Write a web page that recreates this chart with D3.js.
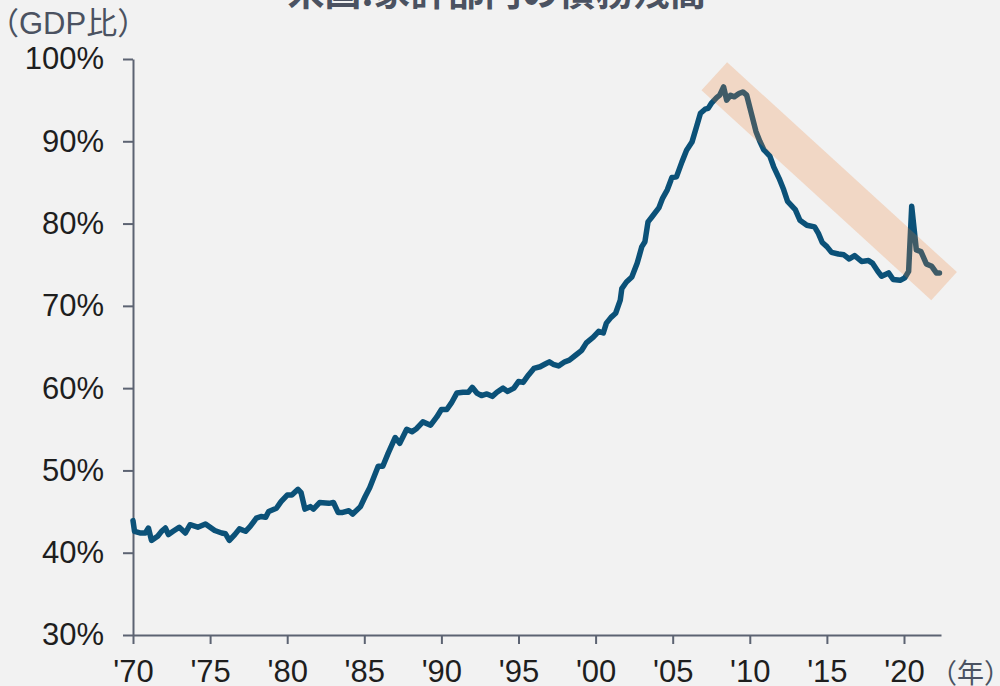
<!DOCTYPE html>
<html>
<head>
<meta charset="utf-8">
<script src="https://cdnjs.cloudflare.com/ajax/libs/d3/7.8.5/d3.min.js"></script>
<style>
  html, body { margin: 0; padding: 0; background: #f2f2f2; }
  svg { display: block; }
  .tick text { font-family: "Liberation Sans", Arial, sans-serif; font-size: 31px; fill: #1e1e1e; }
  .axis path, .axis line { stroke: #5c6372; stroke-width: 2px; }
</style>
</head>
<body>
<div class="chart"></div>
<script>
var svgWidth = 1000;
var svgHeight = 686;

var margin = {
  top: 59,
  right: 59,
  bottom: 51,
  left: 133
};

var width = svgWidth - margin.left - margin.right;
var height = svgHeight - margin.top - margin.bottom;

// household debt, % of GDP
var years = [
  1970.0, 1970.1, 1970.45, 1970.8, 1971.0, 1971.2, 1971.6, 1971.85, 1972.1, 1972.3,
  1972.6, 1973.0, 1973.4, 1973.7, 1974.2, 1974.7, 1975.3, 1975.75, 1976.0, 1976.25,
  1976.6, 1976.9, 1977.3, 1977.6, 1978.0, 1978.3, 1978.6, 1978.8, 1979.3, 1979.6,
  1980.0, 1980.3, 1980.7, 1980.9, 1981.15, 1981.5, 1981.7, 1982.1, 1982.7, 1983.0,
  1983.3, 1983.6, 1984.0, 1984.25, 1984.75, 1985.05, 1985.35, 1985.9, 1986.2, 1986.55,
  1987.0, 1987.3, 1987.75, 1988.1, 1988.4, 1988.8, 1989.3, 1989.7, 1990.0, 1990.35,
  1990.65, 1991.0, 1991.4, 1991.75, 1992.0, 1992.3, 1992.6, 1992.95, 1993.3, 1993.6,
  1994.0, 1994.3, 1994.7, 1995.0, 1995.3, 1995.65, 1996.0, 1996.4, 1996.7, 1997.0,
  1997.25, 1997.6, 1998.0, 1998.3, 1998.7, 1999.1, 1999.4, 1999.85, 2000.2, 2000.5,
  2000.7, 2001.0, 2001.3, 2001.6, 2001.7, 2002.0, 2002.35, 2002.7, 2003.0, 2003.2,
  2003.4, 2003.65, 2004.1, 2004.35, 2004.65, 2004.95, 2005.25, 2005.6, 2005.9, 2006.25,
  2006.55, 2006.8, 2007.1, 2007.3, 2007.5, 2007.85, 2008.05, 2008.3, 2008.5, 2008.75,
  2009.0, 2009.3, 2009.55, 2009.8, 2010.1, 2010.4, 2010.65, 2010.9, 2011.3, 2011.55,
  2011.9, 2012.2, 2012.45, 2012.95, 2013.25, 2013.7, 2014.2, 2014.45, 2014.7, 2015.0,
  2015.3, 2015.75, 2016.1, 2016.45, 2016.8, 2017.25, 2017.7, 2017.95, 2018.3, 2018.55,
  2019.0, 2019.3, 2019.75, 2020.05, 2020.3, 2020.5, 2020.8, 2021.1, 2021.45, 2021.8,
  2022.1, 2022.3
];

var debtRatio = [
  43.9, 42.6, 42.4, 42.4, 43.0, 41.5, 42.0, 42.6, 43.0, 42.2,
  42.6, 43.1, 42.4, 43.4, 43.1, 43.5, 42.7, 42.4, 42.3, 41.5,
  42.2, 42.9, 42.6, 43.2, 44.2, 44.4, 44.3, 45.0, 45.4, 46.2,
  47.0, 47.0, 47.7, 47.3, 45.3, 45.6, 45.3, 46.1, 46.0, 46.1,
  44.9, 44.9, 45.1, 44.7, 45.6, 46.8, 47.9, 50.5, 50.5, 52.1,
  54.0, 53.3, 55.0, 54.7, 55.1, 55.9, 55.5, 56.5, 57.4, 57.4,
  58.2, 59.4, 59.5, 59.5, 60.1, 59.4, 59.1, 59.3, 59.0, 59.5,
  60.0, 59.6, 60.0, 60.8, 60.7, 61.6, 62.4, 62.6, 62.9, 63.2,
  62.9, 62.7, 63.2, 63.4, 64.0, 64.6, 65.5, 66.2, 66.9, 66.7,
  67.9, 68.6, 69.1, 70.7, 72.1, 72.9, 73.5, 75.2, 77.2, 77.8,
  80.2, 80.8, 81.9, 83.1, 84.1, 85.6, 85.7, 87.5, 88.9, 89.9,
  91.8, 93.4, 93.9, 94.0, 94.6, 95.3, 95.6, 96.6, 95.0, 95.6,
  95.4, 95.8, 96.0, 95.6, 93.4, 91.2, 90.0, 89.0, 88.2, 86.9,
  85.5, 84.1, 82.7, 81.7, 80.4, 79.8, 79.6, 78.8, 77.7, 77.2,
  76.5, 76.3, 76.2, 75.7, 76.1, 75.4, 75.5, 75.2, 74.2, 73.6,
  74.0, 73.2, 73.1, 73.4, 74.2, 82.1, 76.8, 76.6, 75.1, 74.8,
  74.0, 74.0
];

var xTickYears = [1970, 1975, 1980, 1985, 1990, 1995, 2000, 2005, 2010, 2015, 2020];
var xTickLabels = ["'70", "'75", "'80", "'85", "'90", "'95", "'00", "'05", "'10", "'15", "'20"];
var yTickValues = [30, 40, 50, 60, 70, 80, 90, 100];

// deleveraging band: start / end in data units
var bandStart = [2007.7, 97.9];
var bandEnd = [2022.6, 72.4];

var titleText = "米国:家計部門の債務残高";
var yUnitText = "（GDP比）";
var xUnitText = "（年）";

var svg = d3
  .select(".chart")
  .append("svg")
  .attr("width", svgWidth)
  .attr("height", svgHeight);

svg.append("rect")
  .attr("width", svgWidth)
  .attr("height", svgHeight)
  .attr("fill", "#f2f2f2");

var chartGroup = svg.append("g")
  .attr("transform", `translate(${margin.left}, ${margin.top})`);

var xScale = d3.scaleLinear()
  .domain([1970, 2022.4])
  .range([0, width]);

var yScale = d3.scaleLinear()
  .domain([30, 100])
  .range([height, 0]);

var bottomAxis = d3.axisBottom(xScale)
  .tickValues(xTickYears)
  .tickFormat((d, i) => xTickLabels[i])
  .tickSizeInner(9)
  .tickSizeOuter(0)
  .tickPadding(16);

var leftAxis = d3.axisLeft(yScale)
  .tickValues(yTickValues)
  .tickFormat(d => d + "%")
  .tickSizeInner(10)
  .tickSizeOuter(0)
  .tickPadding(19);

chartGroup.append("g")
  .attr("class", "axis")
  .call(leftAxis);

chartGroup.append("g")
  .attr("class", "axis")
  .attr("transform", `translate(0, ${height})`)
  .call(bottomAxis);

var points = years.map((y, i) => [y, debtRatio[i]]);

var line = d3.line()
  .x(d => xScale(d[0]))
  .y(d => yScale(d[1]));

chartGroup.append("path")
  .datum(points)
  .attr("d", line)
  .attr("fill", "none")
  .attr("stroke", "#0b5178")
  .attr("stroke-width", 5.5)
  .attr("stroke-linejoin", "round")
  .attr("stroke-linecap", "round");

// translucent band over the falling part
chartGroup.append("line")
  .attr("x1", xScale(bandStart[0]))
  .attr("y1", yScale(bandStart[1]))
  .attr("x2", xScale(bandEnd[0]))
  .attr("y2", yScale(bandEnd[1]))
  .attr("stroke", "#ed7d31")
  .attr("stroke-opacity", 0.23)
  .attr("stroke-width", 38)
  .attr("stroke-linecap", "butt");

// title (cut at the top like the source)
svg.append("text")
  .attr("x", 497)
  .attr("y", 6)
  .attr("text-anchor", "middle")
  .style("font-family", "'Noto Sans CJK JP', sans-serif")
  .style("font-weight", "bold")
  .style("font-size", "37px")
  .style("fill", "#4b5261")
  .text(titleText);

svg.append("text")
  .attr("x", -12)
  .attr("y", 34)
  .style("font-family", "'Liberation Sans', 'Noto Sans CJK JP', sans-serif")
  .style("font-size", "31px")
  .style("fill", "#4b5261")
  .text(yUnitText);

svg.append("text")
  .attr("x", 930)
  .attr("y", 683)
  .style("font-family", "'Noto Sans CJK JP', sans-serif")
  .style("font-size", "27px")
  .style("fill", "#4b5261")
  .text(xUnitText);
</script>
</body>
</html>
